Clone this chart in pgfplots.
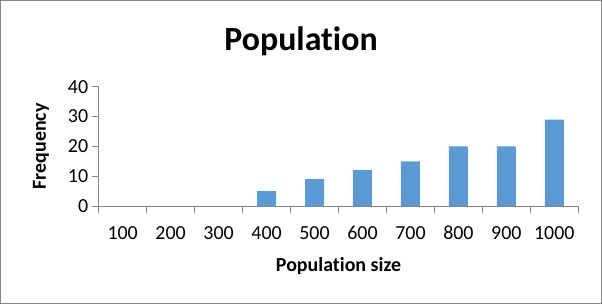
\documentclass[border=0pt]{standalone}
\usepackage{fontspec}
\setmainfont{Carlito}[RawFeature={-liga;-clig}]
\usepackage{pgfplots}
\pgfplotsset{compat=1.18}
\definecolor{barblue}{HTML}{5B9BD5}
\definecolor{axgray}{HTML}{868686}
\begin{document}
\begin{tikzpicture}[x=1bp,y=1bp]
\draw[axgray, line width=1bp] (0.5,0.5) rectangle (601.5,303.5);
\node[font=\bfseries\fontsize{34}{34}\selectfont, anchor=base] at (301,254) {Population};
\begin{axis}[
  at={(98.7bp,98bp)}, anchor=south west,
  scale only axis, width=479.6bp, height=119.3bp,
  xmin=0.5, xmax=10.5, ymin=0, ymax=40,
  axis x line=bottom, axis y line=left,
  axis line style={-, draw=axgray, line width=0.9bp},
  tick align=outside,
  major tick length=7bp, minor tick length=7bp,
  every tick/.style={draw=axgray, line width=0.9bp},
  xtick={1,...,10},
  xticklabels={100,200,300,400,500,600,700,800,900,1000},
  minor xtick={0.5,1.5,...,10.5},
  major x tick style={draw=none},
  ytick={0,10,20,30,40},
  /pgf/number format/assume math mode=true,
  tick label style={font=\fontsize{20}{20}\selectfont, text=black},
  xticklabel style={anchor=base, yshift=-26bp},
  yticklabel style={anchor=east},
  xlabel={Population size}, ylabel={Frequency},
  every axis x label/.style={at={(axis description cs:0.5,-0.553)}, anchor=base,
     font=\bfseries\fontsize{20}{20}\selectfont},
  every axis y label/.style={at={(axis description cs:-0.11,0.5)}, anchor=base, rotate=90,
     font=\bfseries\fontsize{20}{20}\selectfont},
]
\addplot[ybar, bar width=19bp, fill=barblue, draw=none] coordinates {
(1,0) (2,0) (3,0) (4,5) (5,9) (6,12) (7,15) (8,20) (9,20) (10,29)};
\end{axis}
\end{tikzpicture}
\end{document}
